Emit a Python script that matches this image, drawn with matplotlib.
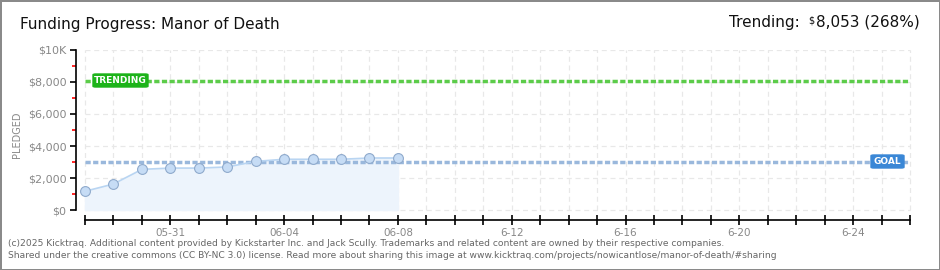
"""Kicktraq-style funding progress chart for Manor of Death."""

import matplotlib
matplotlib.use("Agg")
import matplotlib.pyplot as plt
import matplotlib.dates as mdates
import pandas as pd
from matplotlib.patches import FancyBboxPatch
from matplotlib.text import Annotation

# data
dates = pd.date_range("2025-05-28", "2025-06-08", freq="D")
pledged = [1170, 1625, 2540, 2620, 2620, 2690, 3040, 3170, 3170, 3170, 3250, 3250]
goal = 3000
trending = 8053
trending_pct = 268
axis_start = pd.Timestamp("2025-05-28")
axis_end = pd.Timestamp("2025-06-26")
tick_labels = {"2025-05-31": "05-31", "2025-06-04": "06-04", "2025-06-08": "06-08",
               "2025-06-12": "6-12", "2025-06-16": "6-16", "2025-06-20": "6-20",
               "2025-06-24": "6-24"}
y_major = [0, 2000, 4000, 6000, 8000, 10000]
y_labels = ["$0", "$2,000", "$4,000", "$6,000", "$8,000", "$10K"]
y_minor = [1000, 3000, 5000, 7000, 9000]

W, H = 940, 270
fig = plt.figure(figsize=(W / 100, H / 100), dpi=100, facecolor="white",
                 edgecolor="#8a8a8a", linewidth=2)

# axes: x 76..910 px, y 50..220 px (0 at y=210, 16 px per $1000)
px_day = (910 - 85) / 29
left_pad = (85 - 76) / px_day
ax = fig.add_axes([76 / W, (H - 220) / H, (912 - 76) / W, (220 - 50) / H])
ax.set_ylim(-625, 10000)
x0 = mdates.date2num(axis_start)
x1 = mdates.date2num(axis_end)
ax.set_xlim(x0 - left_pad, x1 + 2 / px_day)

for s in ["top", "right"]:
    ax.spines[s].set_visible(False)
ax.spines["left"].set_bounds(0, 10000)
ax.spines["bottom"].set_bounds(x0, x1)
for s in ["left", "bottom"]:
    ax.spines[s].set_color("black")
    ax.spines[s].set_linewidth(1.2)

# grid
all_days = pd.date_range(axis_start, axis_end, freq="D")
ax.vlines(all_days, 0, 10000, colors="#e8e8e8", linestyles=(0, (4, 3)), linewidth=0.9, zorder=0)
ax.hlines(y_major, x0, x1, colors="#e8e8e8", linestyles=(0, (4, 3)), linewidth=0.9, zorder=0)

# ticks
ax.set_yticks(y_major)
ax.set_yticklabels(y_labels)
ax.set_yticks(y_minor, minor=True)
ax.tick_params(axis="y", which="major", direction="out", length=4, width=1.2,
               colors="black", labelcolor="#888888", labelsize=8, pad=3)
ax.tick_params(axis="y", which="minor", direction="out", length=3, width=1.2, colors="red")
ax.set_xticks(all_days)
ax.set_xticklabels([tick_labels.get(d.strftime("%Y-%m-%d"), "") for d in all_days])
ax.tick_params(axis="x", direction="inout", length=7, width=1.2, colors="black",
               labelcolor="#888888", labelsize=7.5, pad=2)

ax.set_ylabel("PLEDGED", fontsize=7, color="#888888", labelpad=4)

# trending and goal lines
ax.hlines(trending, x0, x1, colors="#5ccc4a", linestyles=(0, (1.5, 0.7)), linewidth=2.5, zorder=2)
ax.hlines(goal, x0, x1, colors="#9ab8dc", linestyles=(0, (1.5, 0.7)), linewidth=2.5, zorder=2)

# pledged series
ax.fill_between(dates, pledged, 0, color="#edf4fc", zorder=1)
ax.plot(dates, pledged, color="#b9d5f2", linewidth=1.2, zorder=3)
ax.scatter(dates, pledged, s=50, color="#c6dcf5", edgecolor="#8faacc", linewidth=0.8, zorder=4)


def tag(x, y, w, h, text, color):
    box = FancyBboxPatch((x / W, 1 - (y + h) / H), w / W, h / H,
                         boxstyle="round,pad=0,rounding_size=0.003",
                         transform=fig.transFigure, facecolor=color, edgecolor=color, zorder=5)
    fig.patches.append(box)
    fig.text((x + w / 2) / W, 1 - (y + h / 2) / H, text, color="white", fontsize=6.5,
             ha="center", va="center", fontweight="bold", zorder=6)


tag(93, 74, 55, 13, "TRENDING", "#1db31a")
tag(871, 155, 33, 13, "GOAL", "#3a87d6")

fig.text(20 / W, 1 - 24 / H, "Funding Progress: Manor of Death", fontsize=11,
         color="#111111", va="center", ha="left")

# top-right trending summary, pieces chained so they never overlap
amount = fig.text(920 / W, 1 - 22 / H, f"{trending:,} ({trending_pct}%)",
                  fontsize=11, color="#111111", va="center", ha="right")
fig.add_artist(Annotation(
    "$", xy=(0, 1), xycoords=amount, xytext=(-1, -1), textcoords="offset points",
    ha="right", va="top", fontsize=7, color="#111111"))
fig.add_artist(Annotation(
    "Trending:", xy=(0, 0.5), xycoords=amount, xytext=(-12, 0), textcoords="offset points",
    ha="right", va="center", fontsize=11, color="#111111"))

fig.text(8 / W, 1 - 243 / H,
         "(c)2025 Kicktraq. Additional content provided by Kickstarter Inc. and Jack Scully. "
         "Trademarks and related content are owned by their respective companies.",
         fontsize=6.6, color="#666666", va="center")
fig.text(8 / W, 1 - 256 / H,
         "Shared under the creative commons (CC BY-NC 3.0) license. Read more about sharing "
         "this image at www.kicktraq.com/projects/nowicantlose/manor-of-death/#sharing",
         fontsize=6.6, color="#666666", va="center")

fig.savefig("out.png", dpi=100, facecolor="white", edgecolor="#8a8a8a")
